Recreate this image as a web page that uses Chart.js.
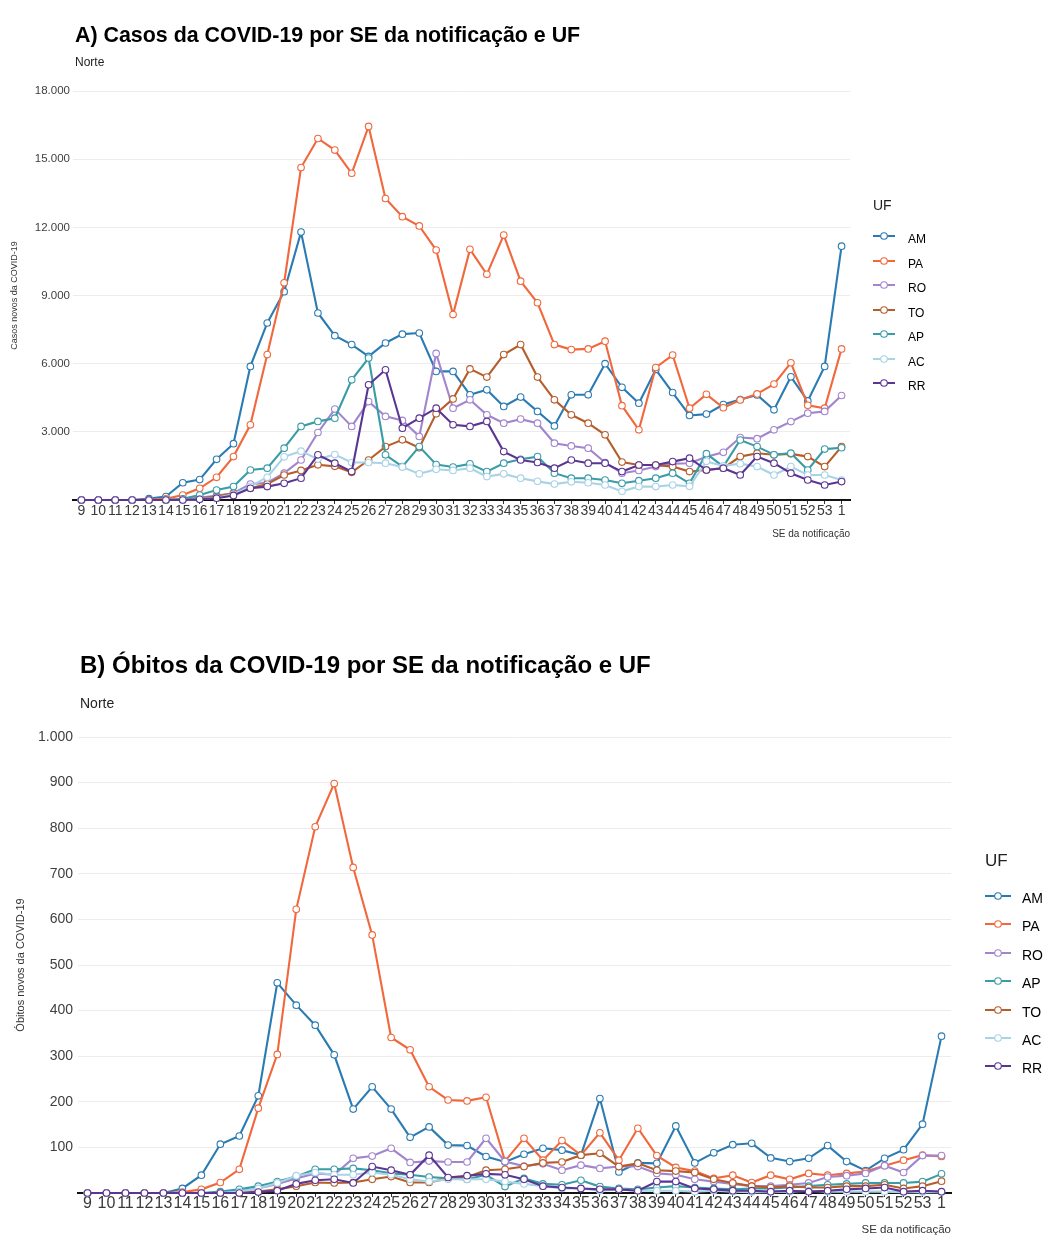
<!DOCTYPE html>
<html lang="pt-BR">
<head>
<meta charset="utf-8">
<title>COVID-19 – Norte</title>
<script src="https://cdn.jsdelivr.net/npm/chart.js@4.4.1/dist/chart.umd.min.js"></script>
<style>
  html, body { margin: 0; padding: 0; background: #fff; }
  body { width: 1046px; height: 1237px; position: relative; overflow: hidden; color: #000; }
  .box { position: absolute; left: 0; }
  .txt { position: absolute; white-space: nowrap; line-height: 1; }
  .legend .it { position: absolute; left: 0; display: flex; align-items: center; white-space: nowrap; color: #333; line-height: 1; }
  .legend svg { display: block; }
</style>
</head>
<body>

<div class="box" style="top:0; width:1046px; height:550px;"><canvas id="chartA" width="1046" height="550"></canvas></div>
<div class="box" style="top:620px; width:1046px; height:617px;"><canvas id="chartB" width="1046" height="617"></canvas></div>

<script>
// Epidemiological weeks (SE) of notification: 9 to 53 of 2020, then week 1 of 2021
const weeks = ['9','10','11','12','13','14','15','16','17','18','19','20','21','22','23','24','25','26','27','28','29','30',
  '31','32','33','34','35','36','37','38','39','40','41','42','43','44','45','46','47','48','49','50','51','52','53','1'];

// A) New COVID-19 cases per week, by state (UF)
const casosAM = [0,0,0,0,60,150,760,900,1790,2480,5880,7790,9170,11790,8230,7230,6840,6320,6910,7300,7350,5660,5660,4630,4850,4120,4530,3900,3260,4630,4630,6000,4960,4260,5740,4730,3720,3780,4200,4420,4620,3970,5420,4360,5880,11170];
const casosPA = [0,0,0,0,20,50,220,515,1000,1910,3310,6400,9560,14630,15910,15400,14380,16440,13270,12470,12060,11000,8160,11030,9930,11660,9630,8680,6840,6620,6650,6990,4150,3090,5830,6380,4040,4650,4060,4400,4670,5100,6040,4170,4040,6650];
const casosRO = [0,0,0,0,0,0,0,100,200,300,700,760,1180,1760,2970,4000,3240,4330,3680,3500,2800,6450,4040,4410,3750,3380,3560,3380,2500,2380,2280,1650,1180,1300,1470,1600,1620,1900,2100,2750,2700,3090,3450,3820,3900,4600];
const casosTO = [0,0,0,0,0,0,30,80,150,300,520,700,1100,1300,1550,1480,1220,1760,2350,2650,2300,3800,4450,5770,5410,6400,6840,5410,4410,3750,3380,2870,1670,1540,1540,1470,1250,1320,1400,1910,2060,1990,2030,1910,1470,2350];
const casosAP = [0,0,0,0,0,0,50,220,440,590,1320,1400,2280,3240,3460,3600,5290,6250,1990,1470,2350,1560,1450,1590,1250,1620,1790,1910,1180,960,960,880,735,850,960,1180,735,2040,1470,2640,2350,1990,2060,1320,2240,2300];
const casosAC = [0,0,0,0,0,0,0,40,100,250,600,1000,1900,2150,1800,2000,1650,1650,1620,1450,1150,1350,1300,1400,1030,1150,960,820,700,800,760,660,380,590,590,660,600,1700,1500,1600,1470,1100,1470,1100,1100,880];
const casosRR = [0,0,0,0,0,0,0,30,80,200,515,590,735,960,1990,1620,1250,5070,5730,3160,3600,4040,3310,3240,3460,2130,1760,1650,1400,1760,1620,1620,1250,1540,1540,1690,1840,1320,1400,1100,1910,1620,1180,880,660,810];

// B) New COVID-19 deaths per week, by state (UF)
const obitosAM = [0,0,0,0,0,10,39,107,125,213,461,412,368,303,184,233,184,122,145,105,104,80,68,85,98,94,83,207,46,66,65,147,66,88,106,109,77,69,76,104,69,49,76,95,151,344];
const obitosPA = [0,0,0,0,0,2,8,23,52,186,304,622,803,898,714,566,341,314,233,204,202,210,70,120,72,115,83,132,72,142,82,56,48,32,39,23,39,30,43,39,43,47,60,72,83,80];
const obitosRO = [0,0,0,0,0,0,0,0,3,10,20,32,43,40,76,81,98,67,70,68,68,120,69,59,64,50,61,54,58,58,43,40,30,25,20,15,15,18,22,35,38,43,60,45,82,82];
const obitosAP = [0,0,0,0,0,0,0,3,8,15,25,36,52,52,54,50,43,40,35,32,30,40,14,32,20,18,28,14,10,8,12,15,12,10,8,10,10,12,15,18,20,22,22,22,25,42];
const obitosTO = [0,0,0,0,0,0,0,0,0,3,8,15,23,22,23,30,36,23,23,32,35,50,52,58,66,68,83,87,58,65,50,48,45,30,22,15,12,15,12,12,15,15,18,10,15,26];
const obitosAC = [0,0,0,0,0,0,0,0,3,10,22,38,45,40,40,45,40,30,25,30,30,30,25,20,15,10,10,5,8,5,5,5,3,5,3,2,2,3,5,3,3,3,3,2,2,2];
const obitosRR = [0,0,0,0,0,0,0,0,0,2,5,20,28,30,22,58,50,40,83,34,38,42,40,30,15,12,10,8,8,5,25,25,10,8,5,5,3,5,3,5,8,10,12,3,5,3];

// Axis tick values
const casosTicks = [0, 3000, 6000, 9000, 12000, 15000, 18000];
const obitosTicks = [0, 100, 200, 300, 400, 500, 600, 700, 800, 900, 1000];

// One colour per state
const ufColors = {
  AM: '#2b7bb3', PA: '#f1683c', RO: '#a285cf', TO: '#b65d2c',
  AP: '#3a9ca6', AC: '#a9d3e6', RR: '#5a3592'
};

const casosSeries = [
  ['AM', casosAM], ['PA', casosPA], ['RO', casosRO], ['TO', casosTO],
  ['AP', casosAP], ['AC', casosAC], ['RR', casosRR]
];
const obitosSeries = [
  ['AM', obitosAM], ['PA', obitosPA], ['RO', obitosRO], ['AP', obitosAP],
  ['TO', obitosTO], ['AC', obitosAC], ['RR', obitosRR]
];

// Prefer a condensed sans face when the system has one
function hasFont(name) {
  const ctx = document.createElement('canvas').getContext('2d');
  const probe = 'AMPA RO 0123456789 notificação';
  ctx.font = '40px monospace';
  const base = ctx.measureText(probe).width;
  ctx.font = '40px "' + name + '", monospace';
  return Math.abs(ctx.measureText(probe).width - base) > 1;
}
const NARROW = hasFont('Liberation Sans Narrow');
const FONT = NARROW ? '"Liberation Sans Narrow", "Liberation Sans", Arial, sans-serif'
                    : '"Liberation Sans", Arial, sans-serif';
document.body.style.fontFamily = FONT;

// Text sizes for each face
const S = NARROW ? {
  tA: 26, tB: 29, subA: 14, subB: 18,
  xA: 16.5, xB: 19, yA: 13.5, yB: 17, xtA: 13, xtB: 14.5, ytA: 11, ytB: 13,
  hdA: 17, hdB: 20, lgA: 14, lgB: 16
} : {
  tA: 21.4, tB: 24, subA: 12, subB: 14,
  xA: 14, xB: 16, yA: 11.5, yB: 14, xtA: 10, xtB: 11.5, ytA: 9, ytB: 11,
  hdA: 14, hdB: 17, lgA: 12, lgB: 14
};

function addText(text, left, centerY, size, opts) {
  const d = document.createElement('div');
  d.className = 'txt';
  d.textContent = text;
  d.style.left = left + 'px';
  d.style.fontSize = size + 'px';
  d.style.top = (centerY - size * 0.5) + 'px';
  if (opts && opts.bold) d.style.fontWeight = 'bold';
  d.style.color = (opts && opts.color) || '#000';
  document.body.appendChild(d);
  return d;
}

function fmtBR(v) {
  if (v === 0) return '';
  return String(v).replace(/\B(?=(\d{3})+(?!\d))/g, '.');
}

function makeDatasets(series) {
  const n = series.length;
  return series.map(([uf, values], i) => ({
    label: uf,
    data: values,
    borderColor: ufColors[uf],
    backgroundColor: ufColors[uf],
    borderWidth: 2.1,
    pointRadius: 3.3,
    pointBorderWidth: 1.1,
    pointBackgroundColor: '#ffffff',
    pointBorderColor: ufColors[uf],
    tension: 0,
    clip: false,
    order: n - 1 - i
  }));
}

function buildChart(canvasId, series, ticks, cfg) {
  const tickSet = ticks.slice();
  return new Chart(document.getElementById(canvasId), {
    type: 'line',
    data: { labels: weeks, datasets: makeDatasets(series) },
    options: {
      responsive: false,
      animation: false,
      events: [],
      layout: { padding: cfg.padding },
      plugins: { legend: { display: false }, tooltip: { enabled: false }, title: { display: false } },
      scales: {
        x: {
          type: 'category',
          offset: true,
          grid: { display: true, drawOnChartArea: false, drawTicks: true, tickLength: 4, offset: false, color: '#333', lineWidth: 1 },
          border: { display: true, color: '#111', width: 2 },
          ticks: { autoSkip: false, maxRotation: 0, minRotation: 0, padding: cfg.xPad,
                   font: { family: FONT, size: cfg.xFont }, color: '#3a3a3a' },
          title: { display: true, text: 'SE da notificação', align: 'end',
                   font: { family: FONT, size: cfg.xTitleFont }, color: '#333', padding: { top: 0, bottom: cfg.xTitlePad } },
          afterFit: (s) => { s.height = cfg.xHeight; }
        },
        y: {
          min: tickSet[0],
          max: tickSet[tickSet.length - 1],
          afterBuildTicks: (s) => { s.ticks = tickSet.map(v => ({ value: v })); },
          grid: { color: '#ececec', lineWidth: 1, drawTicks: false },
          border: { display: false },
          ticks: { padding: cfg.yPad, font: { family: FONT, size: cfg.yFont }, color: '#3f3f3f', callback: (v) => fmtBR(v) },
          title: { display: true, text: cfg.yTitle, font: { family: FONT, size: cfg.yTitleFont }, color: '#333',
                   padding: { top: cfg.yTitlePad, bottom: 0 } },
          afterFit: (s) => { s.width = cfg.yWidth; }
        }
      }
    }
  });
}

function buildLegend(series, left, top, step, cfg) {
  addText('UF', left, top, cfg.hdFont, { color: '#222' });
  series.forEach(([uf], i) => {
    const c = ufColors[uf];
    const cy = top + cfg.firstGap + i * step;
    const it = document.createElement('div');
    it.className = 'it';
    it.style.position = 'absolute';
    it.style.left = left + 'px';
    it.style.top = (cy - 7) + 'px';
    it.style.height = '14px';
    it.style.fontSize = cfg.font + 'px';
    const w = cfg.keyW;
    it.innerHTML =
      '<svg width="' + w + '" height="14" viewBox="0 0 ' + w + ' 14">' +
      '<line x1="0" y1="7" x2="' + w + '" y2="7" stroke="' + c + '" stroke-width="2"/>' +
      '<circle cx="' + (w / 2) + '" cy="7" r="3.3" fill="#fff" stroke="' + c + '" stroke-width="1.1"/></svg>' +
      '<span style="margin-left:' + cfg.gap + 'px">' + uf + '</span>';
    document.body.appendChild(it);
  });
}

// Titles and subtitles
addText('A) Casos da COVID-19 por SE da notificação e UF', 75, 36, S.tA, { bold: true });
addText('Norte', 75, 62, S.subA, { color: '#222' });
addText('B) Óbitos da COVID-19 por SE da notificação e UF', 80, 665, S.tB, { bold: true });
addText('Norte', 80, 703, S.subB, { color: '#222' });

buildChart('chartA', casosSeries, casosTicks, {
  padding: { left: 4, top: 91, right: 196, bottom: 4 },
  xFont: S.xA, xPad: -1, xTitleFont: S.xtA, xTitlePad: 6, xHeight: 46,
  yFont: S.yA, yPad: 3, yWidth: 69, yTitle: 'Casos novos da COVID-19', yTitleFont: S.ytA, yTitlePad: 5
});
buildChart('chartB', obitosSeries, obitosTicks, {
  padding: { left: 4, top: 117, right: 95, bottom: 0 },
  xFont: S.xB, xPad: -3, xTitleFont: S.xtB, xTitlePad: 0, xHeight: 44,
  yFont: S.yB, yPad: 5, yWidth: 74, yTitle: 'Óbitos novos da COVID-19', yTitleFont: S.ytB, yTitlePad: 10
});

buildLegend(casosSeries, 873, 205, 24.5, { hdFont: S.hdA, font: S.lgA, firstGap: 31, keyW: 22, gap: 13 });
buildLegend(obitosSeries, 985, 860, 28.4, { hdFont: S.hdB, font: S.lgB, firstGap: 36, keyW: 26, gap: 11 });
</script>
</body>
</html>
